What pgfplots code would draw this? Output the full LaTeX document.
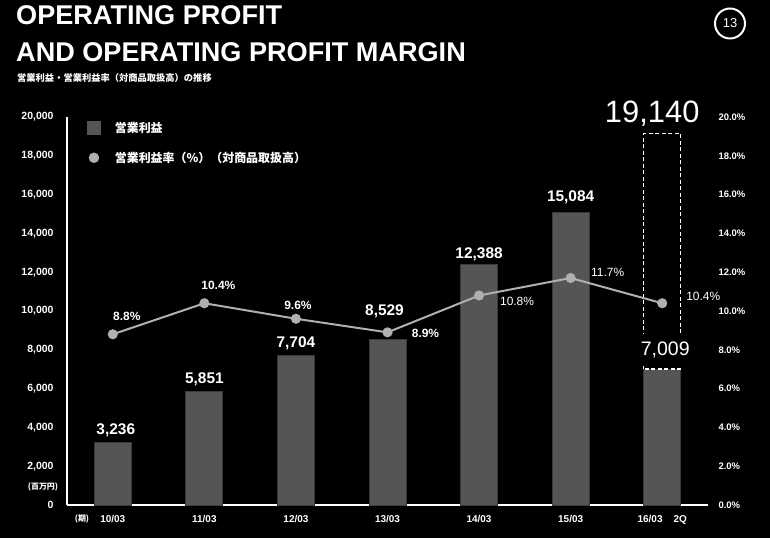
\documentclass[border=0pt]{standalone}
\usepackage{fontspec}
\setmainfont{Liberation Sans}
\newfontfamily\cjk{Noto Sans CJK JP}
\usepackage{pgfplots}
\pgfplotsset{compat=1.18}
\definecolor{bargray}{HTML}{555555}
\definecolor{baredge}{HTML}{3A3A3A}
\definecolor{linegray}{HTML}{B0B0B0}
\begin{document}
\begin{tikzpicture}
\fill[black] (0,0) rectangle (770bp,538bp);
\useasboundingbox (0,0) rectangle (770bp,538bp);
% titles
\node[anchor=base west, inner sep=0, text=white, font=\fontsize{27.2}{30}\selectfont\bfseries] at (16bp,513bp) {OPERATING PROFIT};
\node[anchor=base west, inner sep=0, text=white, font=\fontsize{27.2}{30}\selectfont\bfseries] at (16bp,476bp) {AND OPERATING PROFIT MARGIN};
\node[anchor=base west, inner sep=0, text=white, font=\cjk\fontsize{9.3}{11}\selectfont\bfseries] at (17bp,456.5bp) {営業利益・営業利益率（対商品取扱高）の推移};
\draw[white, line width=2bp] (730bp,514.5bp) circle (15bp);
\node[text=white, font=\fontsize{13}{15}\selectfont] at (730bp,514.5bp) {13};
\node[text=white, font=\cjk\fontsize{8}{9}\selectfont\bfseries] at (43bp,51bp) {(百万円)};
\node[text=white, font=\cjk\fontsize{8}{9}\selectfont\bfseries] at (82bp,19bp) {(期)};

\begin{axis}[
  at={(67bp,33bp)}, anchor=south west, scale only axis,
  width=641bp, height=388bp,
  xmin=-0.5, xmax=6.5, ymin=0, ymax=20000,
  axis lines=left,
  axis line style={-, white, line width=2.5bp},
  xtick={0,...,6},
  xticklabels={10/03,11/03,12/03,13/03,14/03,15/03,{16/03\hspace{1.1em}2Q}},
  ytick={0,2000,...,20000},
  scaled y ticks=false,
  major tick length=0,
  /pgf/number format/assume math mode=true,
  /pgf/number format/1000 sep={,},
  ticklabel style={text=white, font=\fontsize{10.5}{12}\selectfont\bfseries},
  yticklabel style={xshift=-10bp},
  xticklabel style={yshift=-7bp, font=\fontsize{10}{12}\selectfont\bfseries},
  clip=false,
  legend cell align=left,
  legend style={at={(0.031,0.99)}, anchor=north west, draw=none, fill=none,
    text=white, font=\cjk\fontsize{12}{14}\selectfont\bfseries,
    inner sep=0pt, row sep=17bp, column sep=14bp, nodes={inner sep=0pt}},
]
\addplot[ybar, bar width=37bp, fill=bargray, draw=baredge, line width=0.8bp,
  legend image code/.code={\fill[bargray] (0bp,-6.5bp) rectangle (13bp,6.5bp);}]
  coordinates {(0,3236) (1,5851) (2,7704) (3,8529) (4,12388) (5,15084) (6,7009)};
\addlegendentry{営業利益}
\addlegendimage{legend image code/.code={\fill[linegray] (6.5bp,0bp) circle (5bp);}}
\addlegendentry{営業利益率（\%）（対商品取扱高）}

\draw[white, line width=1.5bp, dash pattern=on 4bp off 2.5bp] (axis cs:5.798,7009) rectangle (axis cs:6.202,19140);

\begin{scope}[every node/.style={text=white, anchor=base, font=\fontsize{15.5}{18}\selectfont\bfseries}]
\node[xshift=3bp, yshift=7.5bp] at (axis cs:0,3236) {3,236};
\node[yshift=7.5bp] at (axis cs:1,5851) {5,851};
\node[yshift=8.5bp] at (axis cs:2,7704) {7,704};
\node[xshift=-3bp, yshift=24.5bp] at (axis cs:3,8529) {8,529};
\node[yshift=6.5bp] at (axis cs:4,12388) {12,388};
\node[yshift=10.5bp] at (axis cs:5,15084) {15,084};
\end{scope}
\node[text=white, anchor=base, font=\fontsize{31}{34}\selectfont, xshift=-10bp, yshift=11.5bp] at (axis cs:6,19140) {19,140};
\node[text=white, fill=black, inner xsep=2bp, inner ysep=8bp, font=\fontsize{19.6}{22}\selectfont, xshift=3bp, yshift=19bp] at (axis cs:6,7009) {7,009};
\end{axis}

\begin{axis}[
  at={(67bp,33bp)}, anchor=south west, scale only axis,
  width=641bp, height=388bp,
  xmin=-0.5, xmax=6.5, ymin=0, ymax=20,
  hide x axis,
  axis y line*=right,
  axis line style={draw=none},
  ytick={0,2,...,20},
  major tick length=0,
  /pgf/number format/assume math mode=true,
  yticklabel={\pgfmathprintnumber[fixed,fixed zerofill,precision=1]{\tick}\%},
  yticklabel style={text=white, font=\fontsize{9.5}{11}\selectfont\bfseries, xshift=7bp},
  clip=false,
]
\addplot[linegray, line width=2bp, mark=*, mark size=4bp, mark options={fill=linegray, draw=linegray, solid}]
  coordinates {(0,8.8) (1,10.4) (2,9.6) (3,8.9) (4,10.8) (5,11.7) (6,10.4)};
\begin{scope}[every node/.style={text=white, font=\fontsize{12}{14}\selectfont\bfseries}]
\node[xshift=14bp, yshift=18bp] at (axis cs:0,8.8) {8.8\%};
\node[xshift=14bp, yshift=18bp] at (axis cs:1,10.4) {10.4\%};
\node[xshift=2bp, yshift=13bp] at (axis cs:2,9.6) {9.6\%};
\node[xshift=38bp, yshift=-1bp] at (axis cs:3,8.9) {8.9\%};
\end{scope}
\begin{scope}[every node/.style={text=white, font=\fontsize{12}{14}\selectfont}]
\node[xshift=38bp, yshift=-6bp] at (axis cs:4,10.8) {10.8\%};
\node[xshift=37bp, yshift=6bp] at (axis cs:5,11.7) {11.7\%};
\node[xshift=41bp, yshift=7bp] at (axis cs:6,10.4) {10.4\%};
\end{scope}
\end{axis}
\end{tikzpicture}
\end{document}
